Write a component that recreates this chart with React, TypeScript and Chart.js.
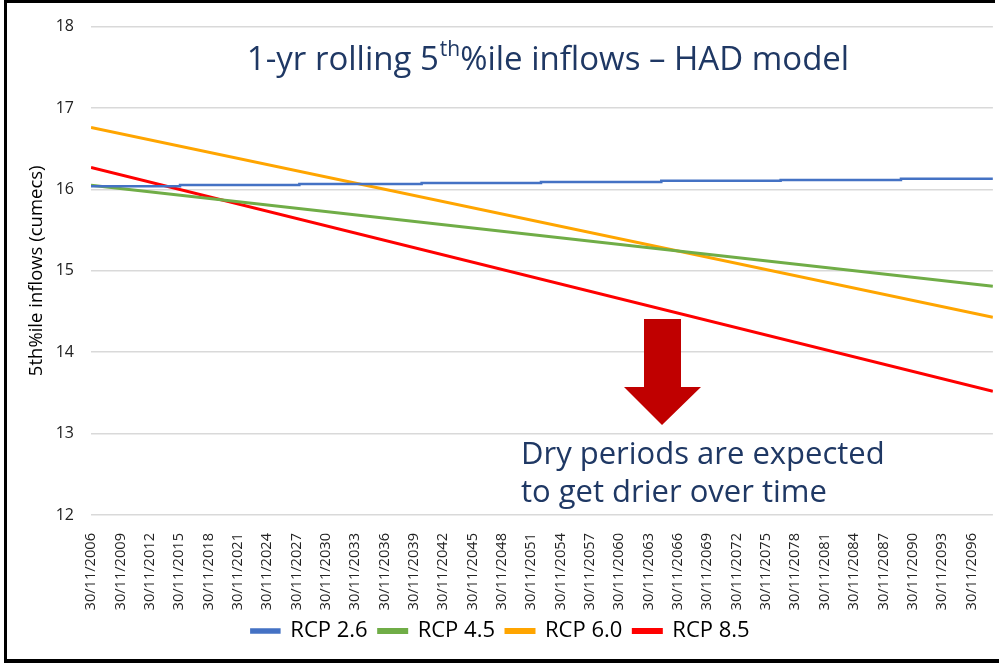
import React, { useEffect, useRef } from "react";
import { Chart, registerables } from "chart.js";

Chart.register(...registerables);

// ---- Data -------------------------------------------------------------
const TICK_YEARS = [
  2006, 2009, 2012, 2015, 2018, 2021, 2024, 2027, 2030, 2033, 2036,
  2039, 2042, 2045, 2048, 2051, 2054, 2057, 2060, 2063, 2066, 2069,
  2072, 2075, 2078, 2081, 2084, 2087, 2090, 2093, 2096,
];
const TICK_PREFIX = "30/11/";
const X_MIN_YEAR = 2006;
const X_MAX_YEAR = 2098.2;

const SERIES_LABELS = ["RCP 2.6", "RCP 4.5", "RCP 6.0", "RCP 8.5"];

// RCP 2.6 is a small staircase (value changes at these years)
const RCP26_YEARS = [2006, 2015.1, 2027.3, 2039.8, 2052.0, 2064.3, 2076.5, 2088.8, 2098.2];
const RCP26_VALUES = [16.04, 16.055, 16.067, 16.08, 16.09, 16.105, 16.117, 16.13, 16.13];

// The other scenarios are straight trend lines (start / end)
const TREND_YEARS = [2006, 2098.2];
const RCP45_VALUES = [16.05, 14.81];
const RCP60_VALUES = [16.76, 14.43];
const RCP85_VALUES = [16.27, 13.52];

const Y_MIN = 12;
const Y_MAX = 18;

const TITLE_MAIN = "1-yr rolling 5";
const TITLE_SUP = "th";
const TITLE_REST = "%ile inflows – HAD model";
const NOTE_LINES = ["Dry periods are expected", "to get drier over time"];
const Y_TITLE = "5th%ile inflows (cumecs)";

// ---- Styles -----------------------------------------------------------
const FONT = "'Open Sans', sans-serif";
const COLORS = ["#4472C4", "#70AD47", "#FFA500", "#FF0000"];
const NAVY = "#1F3864";

const pts = (xs: number[], ys: number[]) => xs.map((x, i) => ({ x, y: ys[i] }));

export default function App() {
  const ref = useRef<HTMLCanvasElement | null>(null);

  useEffect(() => {
    document.body.style.margin = "0";
    if (!ref.current) return;
    Chart.defaults.font.family = FONT;

    const overlay = {
      id: "overlay",
      afterLayout(chart: any) {
        // let the rotated x labels run past the axis box without being clipped
        const xs = chart.scales.x;
        if (xs) xs.bottom = xs.bottom + 40;
      },
      afterDraw(chart: any) {
        const ctx = chart.ctx as CanvasRenderingContext2D;
        ctx.save();
        // arrow
        ctx.fillStyle = "#C00000";
        ctx.beginPath();
        ctx.moveTo(644, 319);
        ctx.lineTo(681, 319);
        ctx.lineTo(681, 387);
        ctx.lineTo(701, 387);
        ctx.lineTo(662, 425);
        ctx.lineTo(624, 387);
        ctx.lineTo(644, 387);
        ctx.closePath();
        ctx.fill();

        // title
        ctx.fillStyle = NAVY;
        ctx.textAlign = "left";
        ctx.textBaseline = "alphabetic";
        const big = `33px ${FONT}`;
        const small = `21px ${FONT}`;
        ctx.font = big;
        const w1 = ctx.measureText(TITLE_MAIN).width;
        const w3 = ctx.measureText(TITLE_REST).width;
        ctx.font = small;
        const w2 = ctx.measureText(TITLE_SUP).width + 1;
        const total = w1 + w2 + w3;
        let x = 548 - total / 2;
        const y = 70;
        ctx.font = big;
        ctx.fillText(TITLE_MAIN, x, y);
        x += w1;
        ctx.font = small;
        ctx.fillText(TITLE_SUP, x + 1, y - 14);
        x += w2;
        ctx.font = big;
        ctx.fillText(TITLE_REST, x, y);

        // annotation
        ctx.font = `31px ${FONT}`;
        ctx.fillText(NOTE_LINES[0], 521, 464);
        ctx.fillText(NOTE_LINES[1], 521, 502);
        ctx.restore();
      },
    };

    const mk = (i: number, data: any[], extra: any = {}) => ({
      label: SERIES_LABELS[i],
      data,
      borderColor: COLORS[i],
      backgroundColor: COLORS[i],
      borderWidth: 3,
      pointRadius: 0,
      tension: 0,
      ...extra,
    });

    const chart = new Chart(ref.current, {
      type: "line",
      data: {
        datasets: [
          mk(0, pts(RCP26_YEARS, RCP26_VALUES), { stepped: true, borderWidth: 2.5 }),
          mk(1, pts(TREND_YEARS, RCP45_VALUES)),
          mk(2, pts(TREND_YEARS, RCP60_VALUES)),
          mk(3, pts(TREND_YEARS, RCP85_VALUES)),
        ],
      },
      options: {
        animation: false,
        responsive: false,
        maintainAspectRatio: false,
        layout: { padding: { left: 6, right: 4, top: 23, bottom: 11 } },
        plugins: {
          legend: {
            position: "bottom",
            labels: {
              boxWidth: 28,
              boxHeight: 3,
              padding: 11,
              color: "#000",
              font: { family: FONT, size: 22 },
            },
          },
          tooltip: { enabled: false },
        },
        scales: {
          x: {
            type: "linear",
            min: X_MIN_YEAR,
            max: X_MAX_YEAR,
            afterBuildTicks: (s: any) => {
              s.ticks = TICK_YEARS.map((v) => ({ value: v }));
            },
            afterFit: (s: any) => {
              s.height = 94;
            },
            grid: { display: false },
            border: { display: false },
            ticks: {
              autoSkip: false,
              minRotation: 90,
              maxRotation: 90,
              padding: 10,
              color: "#222",
              font: { family: FONT, size: 14.6 },
              callback: (v: any) => TICK_PREFIX + v,
            },
          },
          y: {
            min: Y_MIN,
            max: Y_MAX,
            afterFit: (s: any) => {
              s.width = 85;
            },
            ticks: {
              stepSize: 1,
              padding: 17,
              color: "#222",
              font: { family: FONT, size: 16 },
            },
            grid: { color: "#D9D9D9", lineWidth: 1.5, drawTicks: false },
            border: { display: false },
            title: {
              display: true,
              text: Y_TITLE,
              color: "#000",
              font: { family: FONT, size: 18.5 },
              padding: { top: 20, bottom: 0 },
            },
          },
        },
      },
      plugins: [overlay],
    } as any);

    return () => chart.destroy();
  }, []);

  return (
    <div style={{ position: "relative", width: 999, height: 663, background: "#fff", overflow: "hidden" }}>
      <canvas ref={ref} width={999} height={663} style={{ display: "block", width: 999, height: 663 }} />
      <div style={{ position: "absolute", left: 4, top: 0, width: 3, height: 663, background: "#000" }} />
      <div style={{ position: "absolute", left: 4, top: 0, width: 991, height: 3, background: "#000" }} />
      <div style={{ position: "absolute", left: 4, top: 659, width: 995, height: 4, background: "#000" }} />
    </div>
  );
}
